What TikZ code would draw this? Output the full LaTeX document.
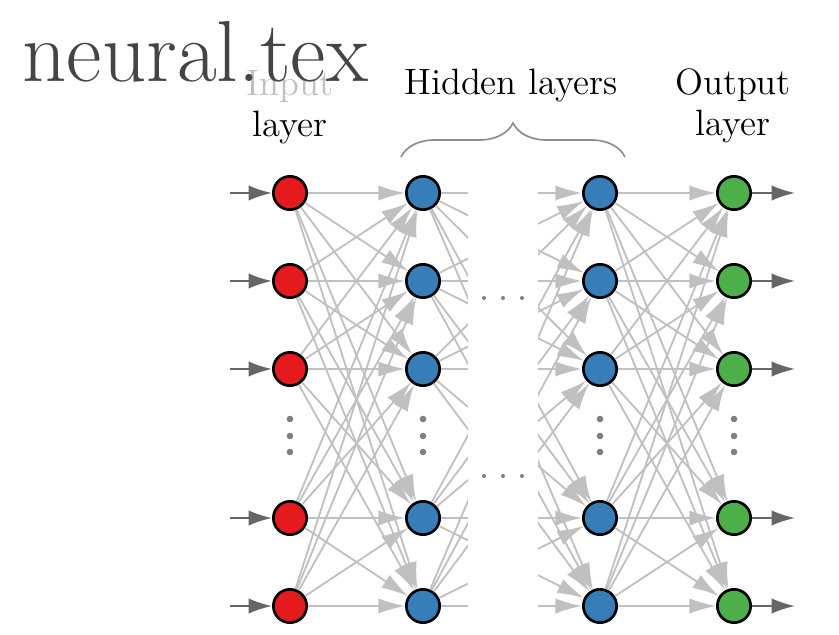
\documentclass[tikz,border=0pt]{standalone}
\usetikzlibrary{arrows.meta,decorations.pathreplacing}

\definecolor{myred}{HTML}{E41A1C}
\definecolor{myblue}{HTML}{377EB8}
\definecolor{mygreen}{HTML}{4DAF4A}
\definecolor{conngray}{HTML}{C0C0C0}
\definecolor{arrowgray}{HTML}{666666}
\definecolor{dotgray}{HTML}{7F7F7F}
\definecolor{bracegray}{HTML}{8C8C8C}
\definecolor{titlegray}{HTML}{444444}

\tikzset{
  neuron/.style={circle,draw=black,line width=0.8pt,inner sep=0pt,minimum size=10pt},
  conn/.style={-{Latex[length=8pt,width=4.6pt]},line width=0.55pt,color=conngray},
  ioarrow/.style={-{Latex[length=7pt,width=4.6pt]},line width=0.6pt,color=arrowgray},
  layerlabel/.style={align=center,anchor=base,font=\fontsize{11}{12.3}\selectfont},
}

\begin{document}
\begin{tikzpicture}[x=0.3pt,y=-0.3pt]
  \useasboundingbox (0,0) rectangle (839,634);

  % neurons, four layers
  \foreach \n/\y in {1/193,2/281,3/369,4/518,5/606}{
    \node[neuron,fill=myred](i\n) at (290,\y){};
    \node[neuron,fill=myblue](h\n) at (423,\y){};
    \node[neuron,fill=myblue](k\n) at (600,\y){};
    \node[neuron,fill=mygreen](o\n) at (734,\y){};
    \coordinate (in\n) at (230,\y);
    \coordinate (out\n) at (795,\y);
    \draw[ioarrow] (in\n) -- (i\n);
    \draw[ioarrow] (o\n) -- (out\n);
  }

  % connections
  \foreach \a in {1,...,5}
    \foreach \b in {1,...,5}{
      \path[conn] (i\a) edge (h\b)
                  (h\a) edge (k\b)
                  (k\a) edge (o\b);
    }
  \fill[white] (468,180) rectangle (538,625);

  % dots
  \foreach \x in {290,423,600,734}
    \foreach \y in {419,436,452}
      \fill[dotgray] (\x,\y) circle (3.3);
  \foreach \y in {298,476}
    \foreach \x in {484,503,522}
      \fill[dotgray] (\x,\y) circle (2);

  % labels
  \draw[decorate,decoration={brace,amplitude=10.2pt},line width=0.5pt,bracegray]
    (401,157) -- (625,157);
  \node[layerlabel](inlab) at (290,137){\textcolor{conngray}{Input}\\layer};
  \node[layerlabel](hidlab) at (511,95){Hidden layers};
  \node[layerlabel](outlab) at (733,135){Output\\layer};

  \node[anchor=base west,inner sep=0pt,text=titlegray,font=\fontsize{26}{30}\selectfont](title)
    at (22,82){neural.tex};
\end{tikzpicture}
\end{document}
